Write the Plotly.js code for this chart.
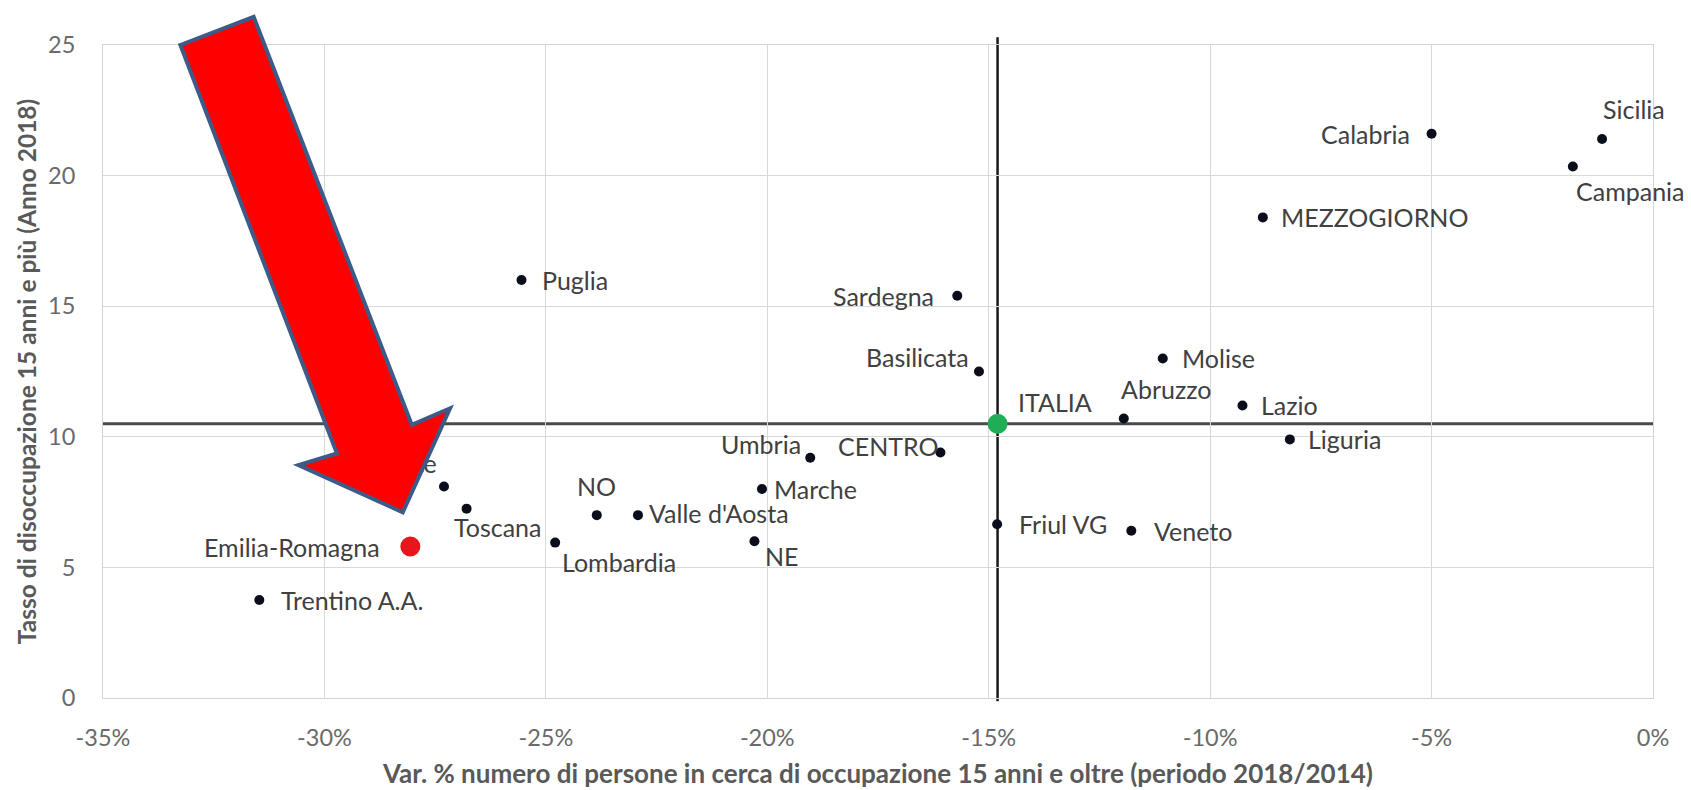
<!DOCTYPE html>
<html>
<head>
<meta charset="utf-8">
<script src="https://cdn.plot.ly/plotly-3.0.1.min.js"></script>
<style>
html,body{margin:0;padding:0;background:#ffffff;}
#chart{width:1691px;height:790px;}
</style>
</head>
<body>
<div id="chart"></div>
<script>
// ---- data ----
const regions = ["Sicilia","Calabria","Campania","MEZZOGIORNO","Puglia","Sardegna","Basilicata","Molise","Lazio","Abruzzo","Liguria","Umbria","CENTRO","Marche","Valle d'Aosta","NO","NE","Lombardia","Toscana","Piemonte","Friul VG","Veneto","Trentino A.A."];
const varPct  = [-1.15,-5.0,-1.81,-8.81,-25.55,-15.71,-15.22,-11.07,-9.27,-11.95,-8.20,-19.03,-16.09,-20.12,-22.92,-23.85,-20.29,-24.79,-26.79,-27.30,-14.81,-11.78,-31.47];
const tasso   = [21.4,21.6,20.35,18.4,16.0,15.4,12.5,13.0,11.2,10.7,9.9,9.2,9.4,8.0,7.0,7.0,6.0,5.95,7.25,8.1,6.65,6.4,3.75];

const italiaName = "ITALIA";
const italiaVar = -14.8;
const italiaTasso = 10.5;

const highlightName = "Emilia-Romagna";
const highlightVar = -28.06;
const highlightTasso = 5.8;

const xTickVals = [-35,-30,-25,-20,-15,-10,-5,0];
const xTickText = ["-35%","-30%","-25%","-20%","-15%","-10%","-5%","0%"];
const yTickVals = [0,5,10,15,20,25];
const yTickText = ["0","5","10","15","20","25"];

const xTitle = "Var. % numero di persone in cerca di occupazione 15 anni e oltre (periodo 2018/2014)";
const yTitle = "Tasso di disoccupazione 15 anni e più (Anno 2018)";

// ---- label placement (style only: anchor + pixel offsets) ----
const place = {
  "Sicilia":        ["left",   0,  30],
  "Calabria":       ["right", -21,  0],
  "Campania":       ["left",   2, -25],
  "MEZZOGIORNO":    ["left",  17,  0],
  "Puglia":         ["left",  19,  0],
  "Sardegna":       ["right", -22,  0],
  "Basilicata":     ["right",  -9, 15],
  "Molise":         ["left",  18,  0],
  "Lazio":          ["left",  18,  0],
  "Abruzzo":        ["left",  -4, 30],
  "Liguria":        ["left",  17,  0],
  "Umbria":         ["right",  -8, 14],
  "CENTRO":         ["right",   0,  6],
  "Marche":         ["left",  11,  0],
  "Valle d'Aosta":  ["left",  10,  2],
  "NO":             ["center", 0, 29],
  "NE":             ["left",  10, -15],
  "Lombardia":      ["left",   6, -19],
  "Toscana":        ["left", -14, -18],
  "Friul VG":       ["left",  21,  0],
  "Veneto":         ["left",  22,  0],
  "Trentino A.A.":  ["left",  21,  0],
  "ITALIA":         ["left",  19, 22],
  "Emilia-Romagna": ["right", -29, 0]
};
// labels covered by the arrow are drawn as trace text (below the arrow)
const hiddenUnderArrow = ["Piemonte"];

const FONT = "Lato, 'Open Sans', sans-serif";
const labelFont = {family: FONT, size: 25, color: "#404040"};

const annotations = [];
function addLabel(name, x, y){
  if (hiddenUnderArrow.indexOf(name) >= 0) return;
  const p = place[name] || ["left", 15, 0];
  annotations.push({
    x: x, y: y, xref: "x", yref: "y", text: name, showarrow: false,
    xanchor: p[0], yanchor: "middle", xshift: p[1], yshift: p[2],
    font: labelFont, borderpad: 0
  });
}
regions.forEach((n, i) => addLabel(n, varPct[i], tasso[i]));
addLabel(italiaName, italiaVar, italiaTasso);
addLabel(highlightName, highlightVar, highlightTasso);

const traces = [
  {
    type: "scatter", mode: "markers+text",
    x: varPct, y: tasso,
    text: regions.map(n => hiddenUnderArrow.indexOf(n) >= 0 ? n : ""),
    textposition: "top left",
    textfont: labelFont,
    marker: {size: 10, color: "#0a0e1c"},
    hoverinfo: "text", hovertext: regions, showlegend: false
  },
  {
    type: "scatter", mode: "markers",
    x: [highlightVar], y: [highlightTasso],
    marker: {size: 20, color: "#e8161c"},
    hovertext: [highlightName], hoverinfo: "text", showlegend: false
  },
  {
    type: "scatter", mode: "markers",
    x: [italiaVar], y: [italiaTasso],
    marker: {size: 20, color: "#1fae55"},
    hovertext: [italiaName], hoverinfo: "text", showlegend: false
  }
];

// Arrow outline in paper coordinates (decoration, not data)
const arrowPts = [
  [0.0499, 1.0000],
  [0.0972, 1.0432],
  [0.1992, 0.4185],
  [0.2239, 0.4437],
  [0.1934, 0.2844],
  [0.1261, 0.3568],
  [0.1509, 0.3746]
];
const arrowPath = "M " + arrowPts.map(p => p[0] + "," + p[1]).join(" L ") + " Z";

const shapes = [
  { type: "line", layer: "between", xref: "paper", yref: "y",
    x0: 0, x1: 1, y0: italiaTasso, y1: italiaTasso,
    line: {color: "#4a4a4a", width: 3} },
  { type: "line", layer: "between", xref: "x", yref: "paper",
    x0: italiaVar, x1: italiaVar, y0: -0.005, y1: 1.012,
    line: {color: "#1a1a1a", width: 2.5} },
  { type: "path", layer: "above", xref: "paper", yref: "paper",
    path: arrowPath, fillcolor: "#ff0000",
    line: {color: "#3d5b88", width: 4} }
];

const layout = {
  width: 1691, height: 790,
  paper_bgcolor: "#ffffff", plot_bgcolor: "#ffffff",
  margin: {l: 103, r: 38, t: 45, b: 92, pad: 0},
  font: {family: FONT},
  showlegend: false,
  xaxis: {
    range: [-35, 0], tickvals: xTickVals, ticktext: xTickText,
    showgrid: true, gridcolor: "#d9d9d9", gridwidth: 1,
    zeroline: false, showline: true, mirror: true, linecolor: "#d4d4d4", linewidth: 1,
    ticks: "", ticklabelstandoff: 19,
    tickfont: {family: FONT, size: 23.5, color: "#6a6a6a"},
    title: {text: "<b>" + xTitle + "</b>", font: {family: FONT, size: 26, color: "#595959"}, standoff: 14},
    automargin: false, fixedrange: true
  },
  yaxis: {
    range: [0, 25], tickvals: yTickVals, ticktext: yTickText,
    showgrid: true, gridcolor: "#d9d9d9", gridwidth: 1,
    zeroline: false, showline: true, mirror: true, linecolor: "#d4d4d4", linewidth: 1,
    ticks: "", ticklabelstandoff: 22,
    tickfont: {family: FONT, size: 23.5, color: "#6a6a6a"},
    title: {text: "<b>" + yTitle + "</b>", font: {family: FONT, size: 24.5, color: "#595959"}, standoff: 4},
    automargin: false, fixedrange: true
  },
  annotations: annotations,
  shapes: shapes
};

Plotly.newPlot("chart", traces, layout, {displayModeBar: false, staticPlot: true});
</script>
</body>
</html>
